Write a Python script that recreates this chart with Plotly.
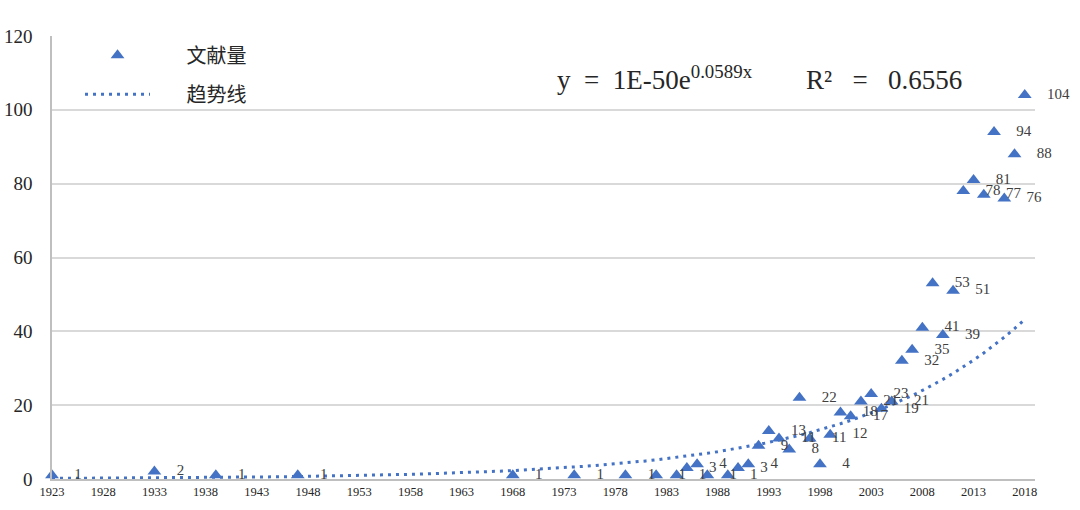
import numpy as np
import plotly.graph_objects as go

# publications per year
years = [1923, 1933, 1939, 1947, 1968, 1974, 1979, 1982, 1984, 1985, 1986, 1987,
         1989, 1990, 1991, 1992, 1993, 1994, 1995, 1996, 1997, 1998, 1999, 2000,
         2001, 2002, 2003, 2004, 2005, 2006, 2007, 2008, 2009, 2010, 2011, 2012,
         2013, 2014, 2015, 2016, 2017, 2018]
counts = [1, 2, 1, 1, 1, 1, 1, 1, 1, 3, 4, 1,
          1, 3, 4, 9, 13, 11, 8, 22, 11, 4, 12, 18,
          17, 21, 23, 19, 21, 32, 35, 41, 53, 39, 51, 78,
          81, 77, 94, 76, 88, 104]

nb = "\u00a0"
series_name = nb * 7 + "文献量"
trend_name = nb * 7 + "趋势线"
equation = (f"y{nb*2}={nb*2}1E-50e<sup>0.0589x</sup>{nb*8}"
            f"R²{nb*3}={nb*3}0.6556")

BLUE = "#4472C4"
SERIF = "Liberation Serif, DejaVu Serif, serif"
CJK = "Noto Sans CJK SC, sans-serif"

# exponential trendline (least squares on ln y, like Excel)
b, ln_a = np.polyfit(years, np.log(counts), 1)
trend_x = np.arange(years[0], years[-1] + 1)
trend_y = np.exp(ln_a + b * trend_x)

fig = go.Figure()

fig.add_trace(go.Scatter(
    x=years, y=counts, mode="markers", name=series_name,
    marker=dict(symbol="triangle-up", size=12, color=BLUE),
    legendgroup="a", hoverinfo="skip", cliponaxis=False
))

fig.add_trace(go.Scatter(
    x=trend_x, y=trend_y, mode="lines", name=trend_name,
    line=dict(color=BLUE, width=3, dash="3px,5px"),
    legendgroup="b", hoverinfo="skip"
))

# data labels, pushed right of each marker
fig.add_trace(go.Scatter(
    x=years, y=counts, mode="markers+text", text=[str(c) for c in counts],
    textposition="middle right",
    textfont=dict(family=SERIF, size=15, color="#404040"),
    marker=dict(size=34, color="rgba(0,0,0,0)"),
    showlegend=False, hoverinfo="skip", cliponaxis=False
))

fig.add_annotation(
    text=equation, xref="paper", yref="paper", x=0.512, y=0.905,
    xanchor="left", yanchor="middle", showarrow=False,
    font=dict(family=SERIF, size=27, color="#262626")
)

fig.update_layout(
    width=1080, height=510,
    margin=dict(l=52, r=45, t=36, b=31, autoexpand=False),
    plot_bgcolor="white", paper_bgcolor="white",
    showlegend=True,
    legend=dict(
        xref="container", yref="container", x=0.0741, y=0.930,
        xanchor="left", yanchor="top", itemwidth=65, tracegroupgap=10,
        font=dict(family=CJK, size=20, color="#262626"),
        bgcolor="rgba(0,0,0,0)"
    ),
    xaxis=dict(
        range=[1923, 2019], tick0=1923, dtick=5, showgrid=False,
        showline=True, linecolor="#BFBFBF", linewidth=1.5,
        tickfont=dict(family=SERIF, size=12.5, color="#262626"),
        ticks="", zeroline=False
    ),
    yaxis=dict(
        range=[0, 120], dtick=20, showgrid=True, gridcolor="#D9D9D9", gridwidth=1.5,
        showline=True, linecolor="#BFBFBF", linewidth=1.5,
        tickfont=dict(family=SERIF, size=19, color="#262626"),
        ticks="", ticklabelstandoff=14, zeroline=False
    ),
)

# drop the default body margin so the figure sits at the page corner
fig.write_html("out.html", config={"displayModeBar": False},
               post_script="document.body.style.margin='0';")
